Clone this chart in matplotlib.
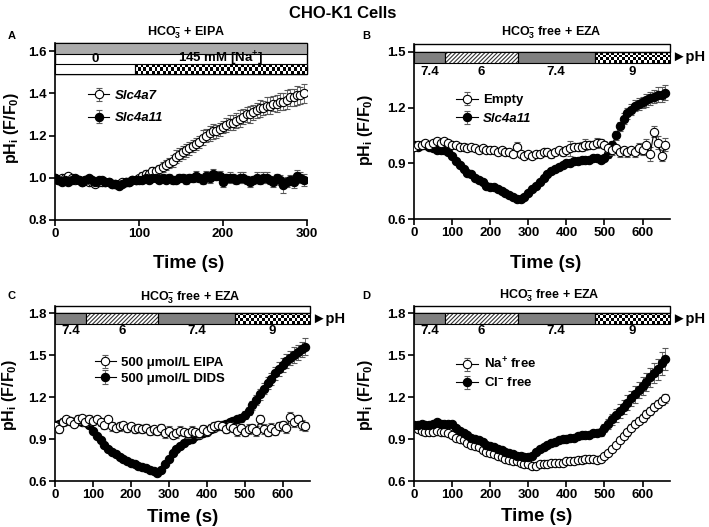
import numpy as np
import matplotlib
matplotlib.use("Agg")
import matplotlib.pyplot as plt
from matplotlib.patches import Rectangle

plt.rcParams['font.family'] = ['Liberation Sans', 'DejaVu Sans']
plt.rcParams['font.weight'] = 'bold'
plt.rcParams['mathtext.fontset'] = 'custom'
plt.rcParams['mathtext.rm'] = 'Liberation Sans:bold'
plt.rcParams['mathtext.bf'] = 'Liberation Sans:bold'
plt.rcParams['mathtext.it'] = 'Liberation Sans:bold:italic'
plt.rcParams['hatch.linewidth'] = 0.8

# ---- 데이터 ----
# A: 4초 간격 (0~296 s)
t_a = np.arange(0, 300, 4)
slc4a7 = [1.00, 0.99, 1.00, 1.00, 1.01, 1.00, 0.99, 0.99, 0.98, 0.99,
          0.98, 0.98, 0.97, 0.98, 0.98, 0.98, 0.98, 0.97, 0.97, 0.97,
          0.98, 0.98, 0.98, 0.99, 0.99, 1.00, 1.01, 1.02, 1.02, 1.03,
          1.03, 1.04, 1.05, 1.06, 1.07, 1.08, 1.10, 1.11, 1.12, 1.13,
          1.14, 1.15, 1.16, 1.17, 1.19, 1.20, 1.21, 1.22, 1.22, 1.23,
          1.24, 1.25, 1.26, 1.26, 1.27, 1.28, 1.29, 1.30, 1.30, 1.31,
          1.32, 1.33, 1.33, 1.34, 1.34, 1.35, 1.35, 1.36, 1.36, 1.37,
          1.38, 1.38, 1.39, 1.39, 1.40]
slc4a7_err = [0.01, 0.01, 0.01, 0.01, 0.01, 0.01, 0.01, 0.01, 0.01, 0.01,
              0.01, 0.01, 0.01, 0.01, 0.01, 0.01, 0.01, 0.01, 0.01, 0.01,
              0.01, 0.01, 0.01, 0.01, 0.01, 0.01, 0.015, 0.015, 0.015, 0.02,
              0.02, 0.02, 0.025, 0.025, 0.025, 0.03, 0.03, 0.03, 0.03, 0.03,
              0.03, 0.03, 0.03, 0.03, 0.035, 0.03, 0.035, 0.035, 0.03, 0.03,
              0.03, 0.035, 0.035, 0.035, 0.035, 0.04, 0.035, 0.035, 0.04, 0.035,
              0.035, 0.04, 0.035, 0.04, 0.04, 0.035, 0.04, 0.04, 0.04, 0.045,
              0.04, 0.04, 0.045, 0.04, 0.045]
slc4a11_a = [1.00, 0.99, 0.98, 0.99, 0.98, 0.99, 1.00, 0.99, 0.98, 0.99,
             1.00, 0.99, 0.98, 0.99, 0.99, 0.98, 0.98, 0.97, 0.97, 0.96,
             0.97, 0.98, 0.98, 0.99, 0.99, 0.99, 0.99, 1.00, 0.99, 1.00,
             1.00, 0.99, 1.00, 0.99, 1.00, 0.99, 0.99, 1.00, 1.00, 0.99,
             1.00, 1.00, 1.01, 1.00, 0.99, 1.01, 1.00, 1.02, 1.01, 1.01,
             0.98, 1.00, 1.00, 1.00, 0.99, 1.00, 1.00, 0.99, 0.98, 0.99,
             1.00, 0.99, 1.00, 1.00, 0.99, 0.98, 1.00, 0.99, 0.965, 0.98,
             0.99, 0.98, 1.01, 1.00, 0.99]
slc4a11_a_err = [0.01, 0.01, 0.01, 0.01, 0.01, 0.01, 0.01, 0.01, 0.01, 0.01,
                 0.01, 0.01, 0.01, 0.01, 0.01, 0.01, 0.01, 0.01, 0.01, 0.01,
                 0.01, 0.01, 0.01, 0.01, 0.01, 0.015, 0.015, 0.015, 0.015, 0.015,
                 0.015, 0.015, 0.02, 0.015, 0.02, 0.02, 0.015, 0.02, 0.02, 0.02,
                 0.02, 0.02, 0.02, 0.02, 0.02, 0.02, 0.025, 0.02, 0.02, 0.02,
                 0.025, 0.02, 0.025, 0.02, 0.02, 0.025, 0.025, 0.02, 0.025, 0.02,
                 0.025, 0.02, 0.025, 0.025, 0.02, 0.025, 0.02, 0.025, 0.035, 0.025,
                 0.025, 0.03, 0.025, 0.025, 0.03]

# B~D: 10초 간격 (0~660 s)
t_b = np.arange(0, 661, 10)
empty_b = [0.99, 1.00, 1.00, 1.01, 1.00, 1.01, 1.02, 1.01, 1.02, 1.01,
           1.00, 1.00, 0.99, 0.99, 0.98, 0.99, 0.98, 0.97, 0.98, 0.97,
           0.97, 0.97, 0.96, 0.97, 0.96, 0.96, 0.95, 0.99, 0.95, 0.94,
           0.95, 0.94, 0.95, 0.95, 0.96, 0.96, 0.95, 0.96, 0.97, 0.96,
           0.97, 0.98, 0.99, 0.99, 0.99, 1.00, 1.00, 1.00, 1.01, 1.01,
           1.00, 0.98, 0.97, 0.98, 0.96, 0.97, 0.96, 0.97, 0.96, 0.98,
           0.97, 1.00, 0.95, 1.07, 1.01, 0.94, 1.00]
empty_b_err = [0.01, 0.01, 0.01, 0.015, 0.01, 0.015, 0.01, 0.015, 0.01, 0.015,
               0.015, 0.01, 0.015, 0.01, 0.015, 0.01, 0.015, 0.01, 0.015, 0.01,
               0.015, 0.01, 0.015, 0.01, 0.015, 0.01, 0.015, 0.025, 0.015, 0.01,
               0.015, 0.01, 0.015, 0.015, 0.01, 0.015, 0.02, 0.015, 0.015, 0.02,
               0.015, 0.04, 0.02, 0.02, 0.025, 0.03, 0.02, 0.02, 0.025, 0.02,
               0.02, 0.02, 0.025, 0.02, 0.025, 0.02, 0.025, 0.02, 0.025, 0.03,
               0.025, 0.03, 0.04, 0.03, 0.035, 0.03, 0.035]
slc4a11_b = [1.00, 0.99, 1.00, 1.00, 0.99, 0.98, 0.97, 0.97, 0.97, 0.96,
             0.94, 0.91, 0.89, 0.87, 0.85, 0.84, 0.82, 0.81, 0.80, 0.78,
             0.77, 0.77, 0.76, 0.75, 0.74, 0.73, 0.72, 0.71, 0.71, 0.72,
             0.74, 0.76, 0.78, 0.80, 0.82, 0.84, 0.86, 0.87, 0.88, 0.89,
             0.90, 0.90, 0.91, 0.91, 0.92, 0.92, 0.92, 0.93, 0.93, 0.92,
             0.93, 0.95, 1.00, 1.05, 1.10, 1.14, 1.17, 1.19, 1.21, 1.22,
             1.23, 1.24, 1.25, 1.26, 1.27, 1.27, 1.28]
slc4a11_b_err = [0.01, 0.01, 0.01, 0.01, 0.01, 0.01, 0.01, 0.01, 0.01, 0.01,
                 0.01, 0.01, 0.01, 0.01, 0.01, 0.01, 0.01, 0.01, 0.01, 0.01,
                 0.01, 0.01, 0.01, 0.01, 0.01, 0.01, 0.01, 0.01, 0.01, 0.01,
                 0.01, 0.01, 0.01, 0.01, 0.015, 0.015, 0.015, 0.015, 0.015, 0.015,
                 0.015, 0.015, 0.015, 0.015, 0.015, 0.015, 0.015, 0.015, 0.015, 0.015,
                 0.015, 0.02, 0.02, 0.025, 0.025, 0.03, 0.03, 0.03, 0.03, 0.03,
                 0.03, 0.035, 0.035, 0.035, 0.04, 0.04, 0.04]

eipa_c = [0.99, 0.97, 1.02, 1.04, 1.03, 1.01, 1.04, 1.05, 1.02, 1.04,
          1.03, 1.04, 1.02, 1.00, 1.04, 0.99, 0.98, 0.99, 1.00, 0.98,
          0.99, 0.97, 0.98, 0.97, 0.98, 0.96, 0.97, 0.96, 0.98, 0.94,
          0.96, 0.93, 0.94, 0.96, 0.95, 0.94, 0.96, 0.95, 0.94, 0.97,
          0.96, 0.98, 0.99, 1.00, 0.99, 0.97, 0.99, 0.98, 0.96, 0.98,
          0.95, 0.97, 0.98, 0.96, 1.04, 0.97, 0.95, 0.98, 0.96, 0.99,
          1.00, 0.98, 1.06, 1.02, 1.04, 1.00, 0.99]
eipa_c_err = [0.03, 0.03, 0.03, 0.025, 0.03, 0.025, 0.03, 0.025, 0.03, 0.03,
              0.03, 0.025, 0.03, 0.03, 0.025, 0.03, 0.025, 0.03, 0.025, 0.03,
              0.025, 0.03, 0.025, 0.03, 0.025, 0.03, 0.025, 0.03, 0.025, 0.03,
              0.03, 0.025, 0.03, 0.03, 0.025, 0.03, 0.03, 0.025, 0.03, 0.03,
              0.03, 0.025, 0.03, 0.03, 0.025, 0.03, 0.035, 0.03, 0.035, 0.03,
              0.03, 0.035, 0.03, 0.035, 0.03, 0.035, 0.03, 0.035, 0.03, 0.035,
              0.03, 0.035, 0.03, 0.035, 0.03, 0.035, 0.03]
dids_c = [1.00, 1.01, 1.02, 1.03, 1.03, 1.02, 1.03, 1.02, 1.02, 1.00,
          0.96, 0.92, 0.89, 0.86, 0.83, 0.81, 0.79, 0.77, 0.76, 0.74,
          0.73, 0.72, 0.71, 0.70, 0.69, 0.68, 0.67, 0.66, 0.68, 0.72,
          0.76, 0.80, 0.83, 0.85, 0.87, 0.89, 0.90, 0.92, 0.93, 0.94,
          0.95, 0.97, 0.98, 0.99, 1.00, 1.01, 1.02, 1.03, 1.04, 1.05,
          1.07, 1.10, 1.14, 1.18, 1.22, 1.26, 1.30, 1.33, 1.37, 1.40,
          1.43, 1.46, 1.48, 1.50, 1.52, 1.54, 1.56]
dids_c_err = [0.01, 0.01, 0.01, 0.01, 0.01, 0.01, 0.01, 0.01, 0.01, 0.01,
              0.01, 0.01, 0.01, 0.01, 0.01, 0.01, 0.01, 0.01, 0.01, 0.01,
              0.01, 0.01, 0.01, 0.01, 0.01, 0.01, 0.01, 0.01, 0.01, 0.015,
              0.015, 0.015, 0.015, 0.02, 0.02, 0.02, 0.02, 0.02, 0.02, 0.02,
              0.02, 0.02, 0.02, 0.025, 0.025, 0.025, 0.025, 0.025, 0.025, 0.03,
              0.03, 0.03, 0.035, 0.035, 0.04, 0.04, 0.04, 0.045, 0.045, 0.05,
              0.05, 0.05, 0.05, 0.055, 0.055, 0.055, 0.06]

na_free = [0.99, 0.97, 0.96, 0.95, 0.95, 0.95, 0.96, 0.95, 0.95, 0.94,
           0.93, 0.91, 0.90, 0.89, 0.87, 0.86, 0.85, 0.84, 0.82, 0.81,
           0.80, 0.79, 0.78, 0.77, 0.76, 0.75, 0.74, 0.74, 0.73, 0.72,
           0.72, 0.71, 0.71, 0.72, 0.72, 0.72, 0.73, 0.73, 0.73, 0.73,
           0.74, 0.74, 0.74, 0.75, 0.75, 0.76, 0.76, 0.76, 0.75, 0.76,
           0.78, 0.80, 0.83, 0.86, 0.89, 0.92, 0.95, 0.98, 1.01, 1.03,
           1.05, 1.08, 1.10, 1.13, 1.15, 1.17, 1.19]
na_free_err = [0.01, 0.01, 0.01, 0.01, 0.01, 0.01, 0.01, 0.01, 0.01, 0.01,
               0.01, 0.01, 0.01, 0.01, 0.01, 0.01, 0.01, 0.01, 0.01, 0.01,
               0.01, 0.01, 0.01, 0.01, 0.01, 0.01, 0.01, 0.01, 0.01, 0.01,
               0.01, 0.01, 0.01, 0.01, 0.01, 0.01, 0.01, 0.01, 0.01, 0.01,
               0.01, 0.01, 0.01, 0.01, 0.01, 0.01, 0.01, 0.01, 0.01, 0.015,
               0.015, 0.015, 0.02, 0.02, 0.02, 0.02, 0.025, 0.025, 0.025, 0.025,
               0.03, 0.03, 0.03, 0.03, 0.03, 0.03, 0.03]
cl_free = [1.00, 1.00, 1.01, 1.00, 1.00, 1.01, 1.02, 1.01, 1.01, 1.01,
           1.01, 0.98, 0.96, 0.94, 0.93, 0.91, 0.90, 0.89, 0.88, 0.86,
           0.85, 0.84, 0.83, 0.82, 0.81, 0.80, 0.79, 0.78, 0.78, 0.77,
           0.77, 0.78, 0.81, 0.83, 0.84, 0.86, 0.87, 0.88, 0.89, 0.90,
           0.90, 0.91, 0.91, 0.92, 0.93, 0.93, 0.93, 0.94, 0.94, 0.95,
           0.98, 1.01, 1.04, 1.07, 1.10, 1.13, 1.16, 1.19, 1.22, 1.25,
           1.28, 1.31, 1.34, 1.37, 1.40, 1.44, 1.47]
cl_free_err = [0.01, 0.01, 0.01, 0.01, 0.01, 0.01, 0.01, 0.01, 0.01, 0.01,
               0.01, 0.01, 0.01, 0.015, 0.015, 0.015, 0.015, 0.015, 0.015, 0.015,
               0.015, 0.015, 0.015, 0.015, 0.015, 0.015, 0.015, 0.015, 0.015, 0.015,
               0.015, 0.015, 0.015, 0.02, 0.02, 0.02, 0.02, 0.02, 0.02, 0.02,
               0.02, 0.02, 0.02, 0.02, 0.02, 0.02, 0.02, 0.02, 0.02, 0.025,
               0.03, 0.035, 0.04, 0.045, 0.05, 0.05, 0.055, 0.055, 0.06, 0.06,
               0.065, 0.065, 0.07, 0.07, 0.075, 0.08, 0.08]

# 프로토콜 바 (구간 경계, s)
na_edges = [0, 95, 300]
na_labels = ["0", "145 mM [Na$^{+}$]"]
ph_edges = [0, 81, 272, 474, 672]
ph_labels = ["7.4", "6", "7.4", "9"]

fig = plt.figure(figsize=(7.09, 5.27), dpi=100)


def draw_series(ax, t, y, err, filled, label, z):
    ax.errorbar(t, y, yerr=err, fmt='-o', color='black', lw=0.8, ms=6,
                mfc='black' if filled else 'white', mec='black', mew=0.8,
                ecolor='0.35', elinewidth=0.6, capsize=2, capthick=0.6,
                label=label, zorder=z)


def checker(ax, x0, x1, y0, y1, ncol, nrow):
    grid = np.indices((nrow, ncol)).sum(axis=0) % 2
    ax.imshow(grid, cmap='gray', extent=(x0, x1, y0, y1), aspect='auto',
              interpolation='nearest', zorder=5, clip_on=False)


def style_axes(ax, xlim, ylim, xticks, yticks):
    ax.set_xlim(*xlim)
    ax.set_ylim(*ylim)
    ax.set_xticks(xticks)
    ax.set_yticks(yticks)
    ax.spines['top'].set_visible(False)
    ax.spines['right'].set_visible(False)
    ax.spines['left'].set_linewidth(1.2)
    ax.spines['bottom'].set_linewidth(1.2)
    ax.tick_params(direction='out', length=4, width=1.2, labelsize=9.5, pad=2)
    for lab in ax.get_xticklabels() + ax.get_yticklabels():
        lab.set_fontweight('bold')


def ph_bar(ax, y_white, y_bar, y_text):
    ax.add_patch(Rectangle((0, y_white[0]), ph_edges[-1], y_white[1] - y_white[0],
                           fc='white', ec='black', lw=1, zorder=6, clip_on=False))
    for i in range(4):
        x0, x1 = ph_edges[i], ph_edges[i + 1]
        h = y_bar[1] - y_bar[0]
        if ph_labels[i] == "7.4":
            ax.add_patch(Rectangle((x0, y_bar[0]), x1 - x0, h, fc='#808080',
                                   ec='black', lw=0.8, zorder=6, clip_on=False))
        elif ph_labels[i] == "6":
            ax.add_patch(Rectangle((x0, y_bar[0]), x1 - x0, h, fc='white',
                                   ec='0.2', hatch='////////', lw=0, zorder=6, clip_on=False))
            ax.add_patch(Rectangle((x0, y_bar[0]), x1 - x0, h, fc='none',
                                   ec='black', lw=0.8, zorder=7, clip_on=False))
        else:
            checker(ax, x0, x1, y_bar[0], y_bar[1], 28, 4)
            ax.add_patch(Rectangle((x0, y_bar[0]), x1 - x0, h, fc='none',
                                   ec='black', lw=0.8, zorder=7, clip_on=False))
        ax.text((x0 + x1) / 2, y_text, ph_labels[i], ha='center', va='center',
                fontsize=9.5, fontweight='bold')
    ax.annotate("\u25ba" + "pH", xy=(1.0, (y_bar[0] + y_bar[1]) / 2),
                xycoords=('axes fraction', 'data'), xytext=(1, 0),
                textcoords='offset points', ha='left', va='center',
                fontsize=10.5, fontweight='bold', annotation_clip=False)


ylab = r"pH$_\mathbf{i}$ (F/F$_\mathbf{0}$)"
tlab = r"HCO$_\mathbf{3}^\mathbf{-}$ free + EZA"

# ---- A ----
ax = fig.add_axes([55 / 709, 1 - 220 / 527, 252 / 709, 177 / 527])
draw_series(ax, t_a, slc4a7, slc4a7_err, False, "Slc4a7", 3)
draw_series(ax, t_a, slc4a11_a, slc4a11_a_err, True, "Slc4a11", 4)
ax.add_patch(Rectangle((0, 1.491), 300, 1.638 - 1.491, fc='white', ec='black',
                       lw=1, zorder=5, clip_on=False))
ax.add_patch(Rectangle((0, 1.586), 300, 1.638 - 1.586, fc='#ababab', ec='black',
                       lw=0.8, zorder=6, clip_on=False))
ax.add_patch(Rectangle((na_edges[0], 1.491), na_edges[1], 1.538 - 1.491,
                       fc='white', ec='black', lw=0.8, zorder=6, clip_on=False))
checker(ax, na_edges[1], na_edges[2], 1.491, 1.538, 62, 3)
ax.add_patch(Rectangle((na_edges[1], 1.491), na_edges[2] - na_edges[1], 1.538 - 1.491,
                       fc='none', ec='black', lw=0.8, zorder=7, clip_on=False))
for i in range(2):
    ax.text((na_edges[i] + na_edges[i + 1]) / 2, 1.563, na_labels[i], ha='center',
            va='center', fontsize=9.5, fontweight='bold', zorder=8)
style_axes(ax, (0, 300), (0.8, 1.638), [0, 100, 200, 300], [0.8, 1.0, 1.2, 1.4, 1.6])
leg = ax.legend(loc='upper left', bbox_to_anchor=(0.11, 0.765), frameon=False,
                handlelength=1.6, handletextpad=0.4, labelspacing=0.75,
                borderaxespad=0, prop={'size': 9.5, 'weight': 'bold', 'style': 'italic'})
ax.text(0.52, 1.056, r"HCO$_\mathbf{3}^\mathbf{-}$ + EIPA", transform=ax.transAxes,
        ha='center', va='center', fontsize=9, fontweight='bold')
ax.set_ylabel(ylab, fontsize=11.5, fontweight='bold')
ax.yaxis.set_label_coords(-0.135, 0.52)
ax.set_xlabel("Time (s)", fontsize=13.5, fontweight='bold')
ax.xaxis.set_label_coords(0.53, -0.195)

# ---- B ----
ax = fig.add_axes([414 / 709, 1 - 219 / 527, 256 / 709, 175 / 527])
draw_series(ax, t_b, slc4a11_b, slc4a11_b_err, True, "Slc4a11", 3)
draw_series(ax, t_b, empty_b, empty_b_err, False, "Empty", 4)
ph_bar(ax, (1.5, 1.543), (1.441, 1.5), 1.392)
style_axes(ax, (0, 672), (0.6, 1.543), [0, 100, 200, 300, 400, 500, 600], [0.6, 0.9, 1.2, 1.5])
h, l = ax.get_legend_handles_labels()
leg = ax.legend([h[1], h[0]], [l[1], l[0]], loc='upper left', bbox_to_anchor=(0.145, 0.745),
                frameon=False, handlelength=1.6, handletextpad=0.4, labelspacing=0.5,
                borderaxespad=0, prop={'size': 9.5, 'weight': 'bold'})
leg.get_texts()[1].set_fontstyle('italic')
ax.text(0.535, 1.063, tlab, transform=ax.transAxes, ha='center', va='center',
        fontsize=9, fontweight='bold')
ax.set_ylabel(ylab, fontsize=11.5, fontweight='bold')
ax.yaxis.set_label_coords(-0.153, 0.51)
ax.set_xlabel("Time (s)", fontsize=13.5, fontweight='bold')
ax.xaxis.set_label_coords(0.515, -0.205)

# ---- C ----
ax = fig.add_axes([55 / 709, 1 - 481 / 527, 255 / 709, 175 / 527])
draw_series(ax, t_b, dids_c, dids_c_err, True, "500 \u03bcmol/L DIDS", 3)
draw_series(ax, t_b, eipa_c, eipa_c_err, False, "500 \u03bcmol/L EIPA", 4)
ph_bar(ax, (1.8, 1.85), (1.721, 1.8), 1.67)
style_axes(ax, (0, 672), (0.6, 1.85), [0, 100, 200, 300, 400, 500, 600], [0.6, 0.9, 1.2, 1.5, 1.8])
h, l = ax.get_legend_handles_labels()
ax.legend([h[1], h[0]], [l[1], l[0]], loc='upper left', bbox_to_anchor=(0.135, 0.74),
          frameon=False, handlelength=1.6, handletextpad=0.4, labelspacing=0.25,
          borderaxespad=0, prop={'size': 9.5, 'weight': 'bold'})
ax.text(0.53, 1.05, tlab, transform=ax.transAxes, ha='center', va='center',
        fontsize=9, fontweight='bold')
ax.set_ylabel(ylab, fontsize=11.5, fontweight='bold')
ax.yaxis.set_label_coords(-0.14, 0.49)
ax.set_xlabel("Time (s)", fontsize=13.5, fontweight='bold')
ax.xaxis.set_label_coords(0.5, -0.16)

# ---- D ----
ax = fig.add_axes([414 / 709, 1 - 481 / 527, 256 / 709, 175 / 527])
draw_series(ax, t_b, na_free, na_free_err, False, r"Na$^\mathbf{+}$ free", 3)
draw_series(ax, t_b, cl_free, cl_free_err, True, r"Cl$^\mathbf{-}$ free", 4)
ph_bar(ax, (1.8, 1.85), (1.721, 1.8), 1.67)
style_axes(ax, (0, 672), (0.6, 1.85), [0, 100, 200, 300, 400, 500, 600], [0.6, 0.9, 1.2, 1.5, 1.8])
ax.legend(loc='upper left', bbox_to_anchor=(0.145, 0.74), frameon=False,
          handlelength=1.6, handletextpad=0.5, labelspacing=0.35,
          borderaxespad=0, prop={'size': 9.5, 'weight': 'bold'})
ax.text(0.527, 1.057, tlab, transform=ax.transAxes, ha='center', va='center',
        fontsize=9, fontweight='bold')
ax.set_ylabel(ylab, fontsize=11.5, fontweight='bold')
ax.yaxis.set_label_coords(-0.153, 0.49)
ax.set_xlabel("Time (s)", fontsize=13.5, fontweight='bold')
ax.xaxis.set_label_coords(0.48, -0.155)

# 제목, 패널 문자
fig.text(343 / 709, 1 - 14 / 527, "CHO-K1 Cells", ha='center', va='center',
         fontsize=12, fontweight='bold')
for letter, (px, py) in zip("ABCD", [(8, 36), (362, 36), (8, 296), (362, 296)]):
    fig.text(px / 709, 1 - py / 527, letter, ha='left', va='center',
             fontsize=8, fontweight='bold')

fig.savefig("out.png", dpi=100)
